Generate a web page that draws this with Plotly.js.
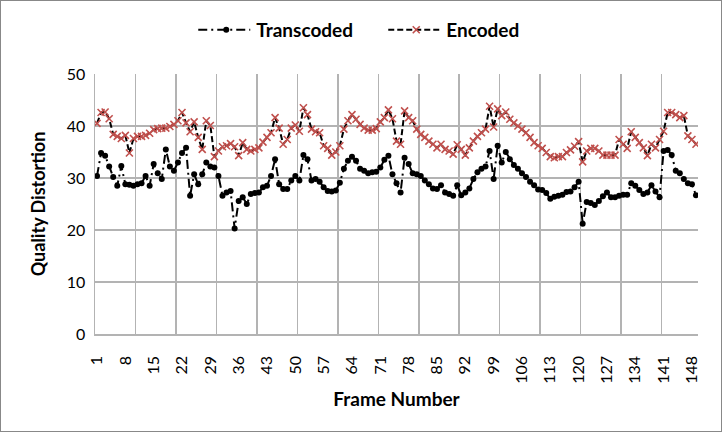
<!DOCTYPE html>
<html>
<head>
<meta charset="utf-8">
<script src="https://cdn.plot.ly/plotly-3.0.1.min.js"></script>
<style>
  html, body { margin: 0; padding: 0; background: #fff; }
  #wrap { position: relative; width: 722px; height: 432px; }
  #frame { position: absolute; left: 0; top: 0; width: 720px; height: 430px;
           border: 1px solid #888; pointer-events: none; }
</style>
</head>
<body>
<div id="wrap">
  <div id="chart" style="width:722px;height:432px;"></div>
  <div id="frame"></div>
</div>
<script>
// Frame numbers 1..149 (category axis)
const frames = Array.from({ length: 149 }, (_, i) => i + 1);

// Labels shown on the x axis
const frameTicks = [1, 8, 15, 22, 29, 36, 43, 50, 57, 64, 71, 78, 85, 92, 99,
    106, 113, 120, 127, 134, 141, 148];

const transcoded = [
    30.4, 34.8, 34.3, 32.2, 30.2, 28.5, 32.3, 28.8, 28.7, 28.5,
    28.8, 29.0, 30.4, 28.5, 32.7, 30.9, 29.8, 35.5, 32.2, 31.4,
    33.0, 34.8, 35.8, 26.6, 30.7, 28.8, 30.7, 33.0, 32.2, 32.0,
    30.4, 26.6, 27.2, 27.5, 20.3, 25.6, 26.3, 25.0, 26.9, 27.1,
    27.2, 28.2, 28.5, 30.4, 33.6, 28.8, 27.9, 27.9, 29.5, 30.4,
    29.5, 34.4, 33.6, 29.5, 29.8, 29.3, 28.2, 27.5, 27.4, 27.6,
    29.1, 31.8, 33.3, 34.1, 33.3, 31.8, 31.4, 30.9, 31.1, 31.2,
    32.0, 33.5, 34.3, 30.7, 29.0, 27.2, 33.9, 32.7, 30.9, 30.7,
    30.4, 29.5, 28.8, 28.0, 27.9, 28.6, 27.2, 26.9, 26.6, 28.6,
    26.7, 27.2, 28.0, 29.8, 31.1, 31.8, 32.2, 35.2, 29.8, 36.2,
    33.0, 35.0, 33.6, 32.5, 31.8, 30.9, 30.2, 29.3, 28.6, 27.8,
    27.7, 27.1, 26.0, 26.4, 26.6, 26.8, 27.3, 27.4, 28.2, 29.3,
    21.2, 25.4, 25.2, 24.8, 25.6, 26.5, 27.2, 26.3, 26.3, 26.6,
    26.8, 26.8, 29.0, 28.5, 27.7, 26.9, 27.2, 28.6, 27.4, 26.3,
    35.2, 35.4, 34.4, 31.4, 30.9, 29.8, 29.0, 28.8, 26.7
];

const encoded = [
    40.5, 42.6, 42.7, 41.4, 38.4, 38.0, 37.6, 38.2, 34.8, 37.6,
    38.0, 38.0, 38.2, 38.6, 39.3, 39.5, 39.6, 39.6, 39.9, 40.3,
    41.0, 42.6, 40.6, 38.9, 40.8, 37.8, 35.5, 41.0, 40.1, 34.1,
    35.2, 36.0, 36.2, 36.6, 36.0, 34.3, 36.8, 35.5, 35.2, 35.5,
    35.8, 36.9, 37.8, 38.7, 41.6, 39.6, 36.5, 37.4, 39.6, 40.2,
    39.0, 43.5, 42.2, 39.4, 38.9, 38.7, 36.2, 35.7, 34.4, 35.0,
    36.2, 39.4, 41.0, 42.2, 41.3, 40.3, 39.6, 39.2, 39.2, 39.5,
    40.8, 41.6, 43.1, 41.4, 37.1, 36.5, 42.9, 41.6, 41.0, 39.4,
    38.4, 37.8, 37.1, 36.5, 35.8, 36.5, 35.5, 35.2, 34.6, 36.4,
    35.5, 34.4, 35.8, 37.1, 38.0, 38.7, 39.4, 43.8, 39.8, 43.3,
    42.0, 42.7, 41.3, 40.6, 40.0, 39.4, 38.7, 37.8, 36.8, 36.2,
    35.7, 34.9, 34.1, 33.9, 34.1, 34.1, 34.9, 35.4, 36.1, 37.0,
    33.1, 35.2, 35.7, 35.7, 35.2, 34.4, 34.4, 34.4, 34.4, 37.4,
    36.5, 35.7, 38.9, 37.8, 36.8, 35.8, 34.3, 36.5, 35.8, 37.4,
    39.0, 42.6, 42.6, 42.2, 41.6, 42.0, 38.1, 37.4, 36.5
];

const FONT = 'Lato, "Open Sans", sans-serif';
const GRID = '#b3b3b3';

const traceTranscoded = {
    x: frames,
    y: transcoded,
    name: 'Transcoded',
    type: 'scatter',
    mode: 'lines+markers',
    line: { color: '#000000', width: 2, dash: '9px,4px,2px,4px' },
    marker: { symbol: 'circle', size: 6, color: '#000000' }
};

const traceEncoded = {
    x: frames,
    y: encoded,
    name: 'Encoded',
    type: 'scatter',
    mode: 'lines+markers',
    line: { color: '#000000', width: 2, dash: '6px,3px' },
    marker: {
        symbol: 'x-thin',
        size: 7,
        color: '#c0504d',
        line: { color: '#c0504d', width: 1.6 }
    }
};

const layout = {
    width: 722,
    height: 432,
    paper_bgcolor: '#ffffff',
    plot_bgcolor: '#ffffff',
    font: { family: FONT, size: 14, color: '#000000' },
    margin: { l: 95, r: 24, t: 73, b: 98 },
    showlegend: true,
    legend: {
        orientation: 'h',
        x: 0.483,
        xanchor: 'center',
        y: 1.165,
        yanchor: 'middle',
        itemwidth: 50,
        entrywidth: 125,
        font: { family: FONT, size: 19, color: '#000000', weight: 'bold' },
        tracegroupgap: 0
    },
    xaxis: {
        type: 'linear',
        range: [0.5, 149.5],
        tickmode: 'array',
        tickvals: frameTicks,
        ticktext: frameTicks.map(String),
        tickangle: -90,
        tickfont: { family: FONT, size: 16 },
        ticklabelstandoff: 14,
        showgrid: false,
        zeroline: false,
        showline: true,
        linecolor: GRID,
        linewidth: 1.5,
        ticks: '',
        minor: {
            tick0: 0.5,
            dtick: 10,
            showgrid: true,
            gridcolor: GRID,
            gridwidth: 1.5
        },
        title: {
            text: 'Frame Number',
            font: { family: FONT, size: 19, weight: 'bold' },
            standoff: 10
        }
    },
    yaxis: {
        range: [0, 50],
        dtick: 10,
        tickfont: { family: FONT, size: 16 },
        showgrid: true,
        gridcolor: GRID,
        gridwidth: 1.5,
        zeroline: false,
        showline: true,
        linecolor: GRID,
        linewidth: 1.5,
        ticks: '',
        ticklabelstandoff: 5,
        title: {
            text: 'Quality Distortion',
            font: { family: FONT, size: 18, weight: 'bold' },
            standoff: 16
        }
    }
};

Plotly.newPlot('chart', [traceTranscoded, traceEncoded], layout, {
    displayModeBar: false,
    staticPlot: true
}).then(gd => {
    // let the legend line samples fill the symbol slot, like the original
    gd.querySelectorAll('.legend .traces').forEach(item => {
        const txt = item.querySelector('.legendtext');
        const path = item.querySelector('.legendlines path');
        if (!txt || !path) return;
        const tx = parseFloat(txt.getAttribute('x')) || 40;
        path.setAttribute('d', 'M2,0H' + (tx - 6));
    });
});
</script>
</body>
</html>
